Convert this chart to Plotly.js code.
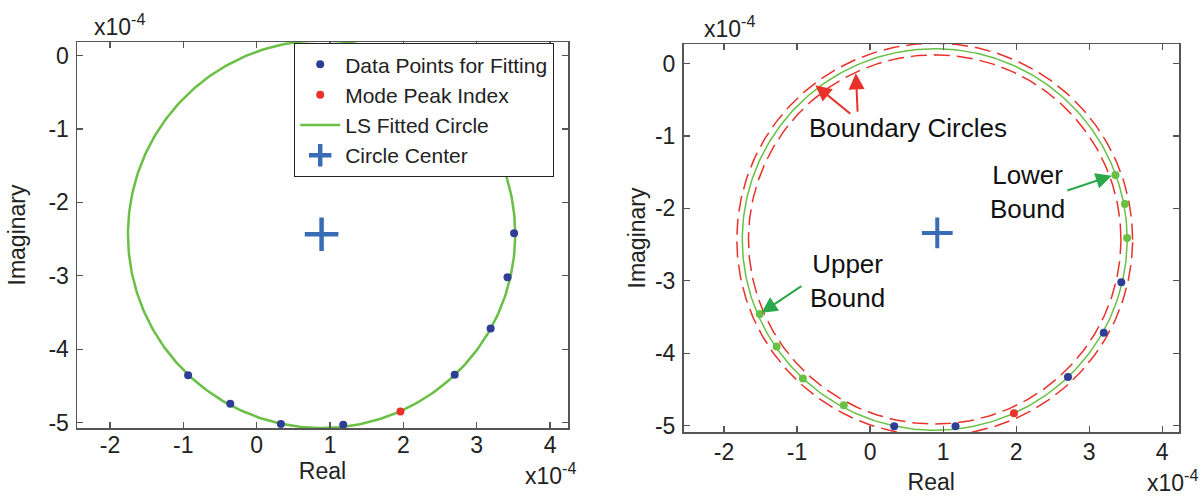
<!DOCTYPE html>
<html><head><meta charset="utf-8">
<script src="https://cdn.plot.ly/plotly-3.0.1.min.js"></script>
<style>html,body{margin:0;padding:0;background:#fff}#chart{width:1204px;height:498px}</style>
</head><body><div id="chart"></div>
<script>
// all values in units of 1e-4
const leftFitX = [3.51, 3.42, 3.19, 2.70, 1.18, 0.33, -0.36, -0.935];
const leftFitY = [-2.42, -3.02, -3.72, -4.35, -5.03, -5.02, -4.745, -4.355];
const leftPeakX = [1.96];
const leftPeakY = [-4.85];
const leftCenterX = [0.885];
const leftCenterY = [-2.435];
const leftRadius = [2.64];

const rightFitX = [3.44, 3.20, 2.71, 1.17, 0.33];
const rightFitY = [-3.02, -3.72, -4.33, -5.01, -5.01];
const rightPeakX = [1.97];
const rightPeakY = [-4.83];
const rightBoundX = [3.36, 3.49, 3.52, -0.36, -0.92, -1.28, -1.51];
const rightBoundY = [-1.54, -1.94, -2.41, -4.72, -4.35, -3.91, -3.46];
const rightMarkX = [0.92];
const rightMarkY = [-2.34];
const rightCircleX = [0.885];
const rightCircleY = [-2.43];
const rightRadius = [2.635];
const rightBoundRadii = [2.55, 2.71];

const xTicks = [-2, -1, 0, 1, 2, 3, 4];
const yTicks = [0, -1, -2, -3, -4, -5];

const FONT = 'Liberation Sans, Arial, sans-serif';
const BLUE = '#2e3d96', RED = '#e8312a', GREEN = '#6abf45', CROSS = '#3a6bb5', ARROWG = '#2ba84a';

function circle(cx, cy, r) {
  const xs = [], ys = [];
  for (let a = 0; a <= 360; a += 1) {
    const t = a * Math.PI / 180;
    xs.push(cx + r * Math.cos(t));
    ys.push(cy + r * Math.sin(t));
  }
  return {x: xs, y: ys};
}

const lc = circle(leftCenterX[0], leftCenterY[0], leftRadius[0]);
const rc = circle(rightCircleX[0], rightCircleY[0], rightRadius[0]);
const rb0 = circle(rightCircleX[0], rightCircleY[0], rightBoundRadii[0]);
const rb1 = circle(rightCircleX[0], rightCircleY[0], rightBoundRadii[1]);

const traces = [
  {x: lc.x, y: lc.y, mode: 'lines', name: 'LS Fitted Circle', line: {color: GREEN, width: 2.5}, legendrank: 3, xaxis: 'x', yaxis: 'y'},
  {x: leftFitX, y: leftFitY, mode: 'markers', name: 'Data Points for Fitting', marker: {color: BLUE, size: 8}, legendrank: 1, xaxis: 'x', yaxis: 'y'},
  {x: leftPeakX, y: leftPeakY, mode: 'markers', name: 'Mode Peak Index', marker: {color: RED, size: 8}, legendrank: 2, xaxis: 'x', yaxis: 'y'},
  {x: leftCenterX, y: leftCenterY, mode: 'markers', name: 'Circle Center', marker: {symbol: 'cross-thin', size: 24, line: {color: CROSS, width: 4.5}}, legendrank: 4, xaxis: 'x', yaxis: 'y'},

  {x: rb0.x, y: rb0.y, mode: 'lines', showlegend: false, line: {color: RED, width: 1.5, dash: '16px,7px'}, xaxis: 'x2', yaxis: 'y2'},
  {x: rb1.x, y: rb1.y, mode: 'lines', showlegend: false, line: {color: RED, width: 1.5, dash: '16px,7px'}, xaxis: 'x2', yaxis: 'y2'},
  {x: rc.x, y: rc.y, mode: 'lines', showlegend: false, line: {color: GREEN, width: 1.5}, xaxis: 'x2', yaxis: 'y2'},
  {x: rightFitX, y: rightFitY, mode: 'markers', showlegend: false, marker: {color: BLUE, size: 8}, xaxis: 'x2', yaxis: 'y2'},
  {x: rightPeakX, y: rightPeakY, mode: 'markers', showlegend: false, marker: {color: RED, size: 8}, xaxis: 'x2', yaxis: 'y2'},
  {x: rightBoundX, y: rightBoundY, mode: 'markers', showlegend: false, marker: {color: GREEN, size: 8}, xaxis: 'x2', yaxis: 'y2'},
  {x: rightMarkX, y: rightMarkY, mode: 'markers', showlegend: false, marker: {symbol: 'cross-thin', size: 22, line: {color: CROSS, width: 4}}, xaxis: 'x2', yaxis: 'y2'}
];

const axisCommon = {
  showline: true, linecolor: '#555', linewidth: 1.5, mirror: 'ticks',
  ticks: 'inside', ticklen: 6, tickcolor: '#555', tickwidth: 1.2,
  showgrid: false, zeroline: false, tickfont: {family: FONT, size: 23, color: '#222'},
  tickmode: 'array'
};
const titleFont = {family: FONT, size: 23, color: '#222'};
const x10Font = {family: FONT, size: 23, color: '#222'};

const layout = {
  width: 1204, height: 498,
  margin: {l: 0, r: 0, t: 0, b: 0},
  paper_bgcolor: '#fff', plot_bgcolor: '#fff',
  font: {family: FONT, color: '#222'},
  showlegend: true,
  legend: {
    x: 294/1204, y: 1 - 43/498, xanchor: 'left', yanchor: 'top',
    bgcolor: '#fff', bordercolor: '#222', borderwidth: 1.2,
    font: {family: FONT, size: 21, color: '#222'}, itemwidth: 40,
    traceorder: 'normal'
  },
  xaxis: Object.assign({}, axisCommon, {domain: [77/1204, 568/1204], range: [-2.45, 4.245], anchor: 'y',
    tickvals: xTicks, ticktext: xTicks.map(String), ticklabelstandoff: -4,
    title: {text: 'Real', font: titleFont, standoff: 0}}),
  yaxis: Object.assign({}, axisCommon, {domain: [1 - 428/498, 1 - 42/498], range: [-5.075, 0.185], anchor: 'x',
    tickvals: yTicks, ticktext: yTicks.map(String), ticklabelstandoff: 2,
    title: {text: 'Imaginary', font: titleFont, standoff: 16}}),
  xaxis2: Object.assign({}, axisCommon, {domain: [683.5/1204, 1179/1204], range: [-2.555, 4.23], anchor: 'y2',
    tickvals: xTicks, ticktext: xTicks.map(String), ticklabelstandoff: -1,
    title: {text: 'Real', font: titleFont, standoff: 10}}),
  yaxis2: Object.assign({}, axisCommon, {domain: [1 - 432/498, 1 - 44/498], range: [-5.09, 0.27], anchor: 'x2',
    tickvals: yTicks, ticktext: yTicks.map(String), ticklabelstandoff: 2,
    title: {text: 'Imaginary', font: titleFont, standoff: 3}}),
  annotations: [
    {xref: 'paper', yref: 'paper', x: 92/1204, y: 1 - 42/498, xanchor: 'left', yanchor: 'bottom', text: 'x10<sup>-4</sup>', showarrow: false, font: x10Font},
    {xref: 'paper', yref: 'paper', x: 523/1204, y: 1 - 491/498, xanchor: 'left', yanchor: 'bottom', text: 'x10<sup>-4</sup>', showarrow: false, font: x10Font},
    {xref: 'paper', yref: 'paper', x: 702/1204, y: 1 - 44/498, xanchor: 'left', yanchor: 'bottom', text: 'x10<sup>-4</sup>', showarrow: false, font: x10Font},
    {xref: 'paper', yref: 'paper', x: 1145/1204, y: 0, xanchor: 'left', yanchor: 'bottom', text: 'x10<sup>-4</sup>', showarrow: false, font: x10Font},

    {xref: 'x2', yref: 'y2', x: 0.52, y: -0.895, text: 'Boundary Circles', showarrow: false, font: {family: FONT, size: 26, color: '#111'}},
    {xref: 'x2', yref: 'y2', x: -0.75, y: -0.30, axref: 'x2', ayref: 'y2', ax: -0.25, ay: -0.71, text: '', showarrow: true, arrowhead: 2, arrowsize: 1.6, arrowwidth: 2, arrowcolor: RED, standoff: 0, startstandoff: 0},
    {xref: 'x2', yref: 'y2', x: -0.195, y: -0.135, axref: 'x2', ayref: 'y2', ax: -0.17, ay: -0.685, text: '', showarrow: true, arrowhead: 2, arrowsize: 1.6, arrowwidth: 2, arrowcolor: RED, standoff: 0, startstandoff: 0},

    {xref: 'x2', yref: 'y2', x: 2.16, y: -1.775, text: 'Lower<br>Bound', showarrow: false, font: {family: FONT, size: 26, color: '#111'}},
    {xref: 'x2', yref: 'y2', x: 3.31, y: -1.55, axref: 'x2', ayref: 'y2', ax: 2.68, ay: -1.76, text: '', showarrow: true, arrowhead: 2, arrowsize: 1.6, arrowwidth: 2, arrowcolor: ARROWG, standoff: 0, startstandoff: 0},

    {xref: 'x2', yref: 'y2', x: -0.306, y: -3.0, text: 'Upper<br>Bound', showarrow: false, font: {family: FONT, size: 26, color: '#111'}},
    {xref: 'x2', yref: 'y2', x: -1.49, y: -3.445, axref: 'x2', ayref: 'y2', ax: -0.92, ay: -3.06, text: '', showarrow: true, arrowhead: 2, arrowsize: 1.6, arrowwidth: 2, arrowcolor: ARROWG, standoff: 0, startstandoff: 0}
  ]
};

Plotly.newPlot('chart', traces, layout, {staticPlot: true, displayModeBar: false});
</script>
</body></html>
